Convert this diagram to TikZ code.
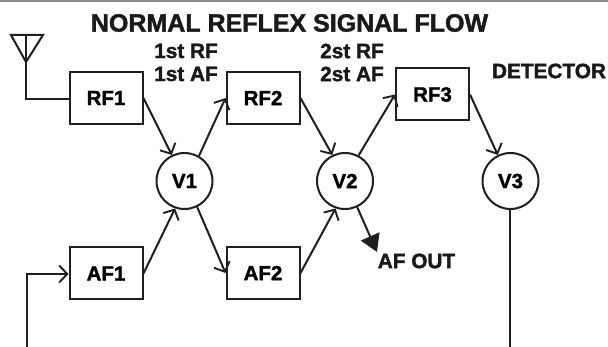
\documentclass[tikz,border=0pt]{standalone}
\usepackage{fontspec}
\setmainfont[BoldFeatures={FakeBold=1.6}]{Liberation Sans}
\usetikzlibrary{arrows.meta}
\tikzset{
  wire/.style={line width=2pt,black!88,line join=miter},
  sig/.style={wire,-{Straight Barb[length=8pt,width=17pt,line width=1.9pt]}},
  outarrow/.style={wire,-{Triangle[length=17pt,width=20pt]}},
  blockbox/.style={draw=black!88,line width=2pt,minimum width=73pt,minimum height=52pt,inner sep=0pt,font=\fontsize{20.5}{24}\selectfont\bfseries},
  valve/.style={circle,draw=black!88,line width=2pt,minimum size=56pt,inner sep=0pt,font=\fontsize{20.5}{24}\selectfont\bfseries},
  lbl/.style={inner sep=0pt,text=black!90,font=\fontsize{20.8}{24}\selectfont\bfseries},
  titletext/.style={inner sep=0pt,text=black!90,font=\fontsize{25}{30}\selectfont\bfseries}
}
\begin{document}
\begin{tikzpicture}[x=1pt,y=-1pt]
\useasboundingbox (0,0) rectangle (608,347);
\fill[black!45] (0,0) rectangle (608,1.6);
% blocks
\node[blockbox] (RF1) at (106,98) {RF1};
\node[blockbox] (RF2) at (263,98) {RF2};
\node[blockbox] (RF3) at (432.5,94.5) {\raisebox{-4.5pt}{RF3}};
\node[blockbox] (AF1) at (106,273.5) {AF1};
\node[blockbox] (AF2) at (263,273) {AF2};
\node[valve] (V1) at (184.5,181) {V1};
\node[valve] (V2) at (345,181) {V2};
\node[valve] (V3) at (510.5,181) {V3};
% text
\node[titletext] (title) at (289.5,23) {NORMAL REFLEX SIGNAL FLOW};
\node[lbl] (l1) at (186,51) {1st RF};
\node[lbl] (l2) at (186,74) {1st AF};
\node[lbl] (l3) at (352,51) {2st RF};
\node[lbl] (l4) at (352,74) {2st AF};
\node[lbl] (det) at (549,71) {DETECTOR};
\node[lbl] (afout) at (416.5,261) {AF OUT};
% antenna
\coordinate (antL) at (11,35);
\coordinate (antR) at (43,35);
\coordinate (antT) at (26,62);
\coordinate (antS) at (26,35);
\coordinate (antC) at (26,99);
\draw[wire] (antL) -- (antR) -- (antT) -- cycle;
\draw[wire] (antS) -- (antC) -- (RF1.west |- antC);
% connectors
\draw[sig] (RF1.east) -- (V1.116);
\draw[sig] (V1.60) -- (RF2.west);
\draw[sig] (RF2.east) -- (V2.116);
\draw[sig] (V2.62) -- (RF3.west);
\draw[sig] (RF3.east) -- (V3.116);
\draw[sig] (AF1.east) -- (V1.251);
\draw[sig] (V1.296) -- (AF2.west);
\draw[sig] (AF2.east) -- (V2.251);
\coordinate (outTip) at (377,252);
\draw[outarrow] (V2.295) -- (outTip);
% feedback leads
\coordinate (fbB) at (27,347);
\coordinate (fbC) at (27,274);
\coordinate (v3B) at (509.5,347);
\draw[sig] (fbB) -- (fbC) -- (AF1.west |- fbC);
\draw[wire] (v3B |- V3.south) -- (v3B);
\end{tikzpicture}
\end{document}
